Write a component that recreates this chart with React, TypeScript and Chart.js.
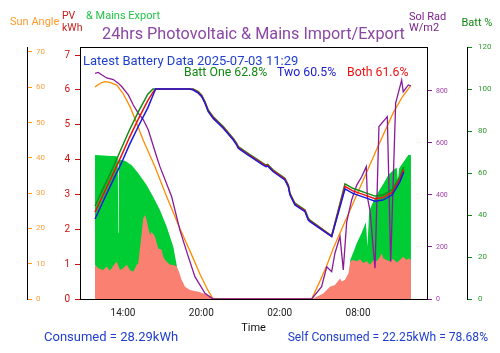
import React, { useEffect, useRef } from 'react';
import { Chart, registerables } from 'chart.js';

Chart.register(...registerables);
Chart.defaults.font.family = 'Roboto';

// ---------- data ----------
const xTicks = [14, 20, 26, 32];
const sunTicks = [0, 10, 20, 30, 40, 50, 60, 70];
const pvTicks = [0, 1, 2, 3, 4, 5, 6, 7];
const radTicks = [0, 200, 400, 600, 800];
const battTicks = [0, 20, 40, 60, 80, 100, 120];

const battTime = [11.86, 12.5, 13.2, 13.9, 14.5, 15.2, 15.9, 16.3, 16.5, 16.7, 19.1, 19.38, 19.77, 20.03, 20.28, 20.53, 20.91, 21.68, 22.45, 22.71, 22.83, 23.47, 24.74, 24.95, 25.08, 25.26, 25.51, 26.4, 26.66, 26.79, 27.17, 27.94, 28.19, 28.32, 29.98, 31.0, 31.6, 32.7, 33.3, 33.9, 34.6, 35.2, 35.5];
const battTwo = [38.1, 46.8, 56.0, 65.0, 73.5, 82.5, 91.0, 97.0, 100, 100, 100, 99.5, 98.0, 96.3, 93.2, 89.2, 86.0, 81.3, 75.7, 73.3, 71.8, 69.0, 63.8, 63.0, 63.3, 62.2, 60.6, 56.7, 53.5, 49.5, 44.8, 41.6, 37.6, 36.8, 29.7, 52.4, 50.3, 47.9, 46.6, 47.1, 49.5, 55.8, 60.5];
const battBoth = [41.4, 49.8, 59.0, 68.5, 77.0, 86.0, 94.5, 98.5, 100, 100, 100, 99.8, 98.4, 96.7, 93.6, 89.6, 86.4, 81.7, 76.1, 73.7, 72.2, 69.4, 64.2, 63.4, 63.7, 62.6, 61.0, 57.1, 53.9, 49.9, 45.2, 42.0, 38.0, 37.2, 29.9, 53.6, 51.5, 49.1, 47.8, 48.3, 50.7, 57.0, 61.6];
const battOne = [44.3, 52.8, 62.0, 72.0, 80.5, 89.5, 97.5, 100, 100, 100, 100, 100, 98.8, 97.1, 94.0, 90.0, 86.8, 82.1, 76.5, 74.1, 72.6, 69.8, 64.6, 63.8, 64.1, 63.0, 61.4, 57.5, 54.3, 50.3, 45.6, 42.4, 38.4, 37.6, 30.1, 54.8, 52.7, 50.3, 49.0, 49.5, 51.9, 58.2, 62.8];

const sunTime = [11.86, 12.3, 12.62, 13.0, 13.52, 14.0, 14.54, 15.0, 15.55, 16.45, 17.35, 18.36, 19.26, 19.9, 20.5, 20.91, 28.45, 29.1, 29.6, 30.1, 30.87, 32.15, 33.43, 34.7, 35.4, 36.05];
const sunAngle = [60.1, 61.2, 61.6, 61.4, 60.6, 58.3, 54.5, 50.3, 45.0, 37.5, 29.0, 20.0, 12.5, 7.0, 2.5, 0, 0, 5.2, 9.4, 14.3, 20.8, 31.6, 42.4, 52.8, 57.3, 60.5];

const radTime = [11.86, 12.11, 12.37, 12.75, 13.26, 13.64, 13.9, 14.41, 14.79, 15.17, 15.55, 15.94, 16.58, 16.83, 17.73, 18.36, 19.0, 19.51, 20.28, 20.89, 28.45, 29.21, 29.6, 29.98, 30.23, 30.62, 30.87, 31.13, 31.51, 31.9, 32.28, 32.63, 32.71, 32.91, 33.3, 33.6, 34.24, 34.5, 34.88, 35.34, 35.46, 35.85, 36.05];
const solRad = [868, 871, 862, 850, 844, 830, 817, 785, 746, 715, 690, 650, 547, 509, 393, 265, 163, 86, 22, 0, 0, 47, 124, 105, 176, 240, 112, 296, 381, 438, 470, 509, 393, 342, 118, 663, 701, 143, 753, 842, 797, 823, 819];

const pvTime = [11.86, 12.11, 12.49, 12.75, 13.0, 13.39, 13.52, 13.77, 14.02, 14.28, 14.54, 14.79, 15.05, 15.17, 15.43, 15.55, 15.68, 15.81, 15.94, 16.07, 16.2, 16.45, 16.7, 16.96, 17.09, 17.22, 17.6, 17.85, 18.11, 18.29, 18.49, 18.75, 19.13, 19.77, 20.28, 20.79, 21.04, 28.5, 29.34, 29.85, 30.23, 30.62, 30.75, 31.0, 31.27, 31.4, 31.65, 31.9, 32.15, 32.4, 32.66, 32.91, 33.17, 33.43, 33.68, 33.81, 33.93, 34.19, 34.44, 34.7, 34.96, 35.21, 35.46, 35.72, 35.85, 36.05];
const pvKwh = [0.98, 0.88, 0.83, 0.93, 0.81, 1.02, 1.07, 0.83, 0.88, 0.98, 0.83, 0.78, 0.98, 1.02, 1.88, 2.31, 2.41, 2.27, 2.03, 1.84, 1.93, 1.79, 1.45, 1.41, 1.21, 1.12, 0.98, 0.98, 0.93, 0.78, 0.55, 0.35, 0.26, 0.21, 0.14, 0.07, 0, 0, 0.16, 0.35, 0.40, 0.59, 0.50, 0.55, 0.74, 1.08, 1.12, 1.08, 1.15, 1.03, 1.08, 0.98, 1.12, 1.08, 1.21, 1.31, 1.17, 1.12, 1.08, 1.15, 1.05, 1.12, 1.21, 1.12, 1.17, 1.12];

const exportTime = [11.86, 12.5, 13.0, 13.39, 13.6, 13.64, 13.68, 13.77, 14.15, 14.67, 15.17, 15.81, 16.32, 16.83, 17.35, 17.85, 18.11, 18.5, 31.27, 31.4, 31.65, 31.9, 32.28, 32.6, 32.72, 32.85, 33.05, 33.43, 33.93, 34.31, 34.7, 34.96, 35.05, 35.15, 35.59, 35.85, 36.05];
const mainsExport = [4.13, 4.12, 4.10, 4.10, 4.08, 1.9, 4.06, 3.99, 3.97, 3.84, 3.61, 3.27, 2.93, 2.55, 2.07, 1.50, 0.98, 0, 0, 1.12, 1.35, 1.6, 1.9, 2.2, 1.5, 2.5, 2.7, 3.0, 3.3, 3.55, 3.7, 3.77, 3.4, 3.75, 3.99, 4.13, 4.13];

const titleText = '24hrs Photovoltaic & Mains Import/Export';
const latestText = 'Latest Battery Data 2025-07-03 11:29';
const battOneText = 'Batt One 62.8%';
const battTwoText = 'Two 60.5%';
const battBothText = 'Both 61.6%';
const consumedText = 'Consumed = 28.29kWh';
const selfText = 'Self Consumed = 22.25kWh = 78.68%';

// ---------- helpers ----------
const pts = (t: number[], v: number[]) => t.map((x, i) => ({ x, y: v[i] }));
const hh = (v: number) => `${String(((v % 24) + 24) % 24).padStart(2, '0')}:00`;
const fixTicks = (list: number[]) => (s: any) => { s.ticks = list.map((v) => ({ value: v })); };

const textPlugin = {
  id: 'texts',
  afterDraw(chart: any) {
    const { ctx, chartArea: a, scales } = chart;
    ctx.save();
    ctx.strokeStyle = '#000';
    ctx.lineWidth = 1;
    ctx.beginPath();
    ctx.moveTo(a.left, Math.round(a.top) + 0.5);
    ctx.lineTo(a.right, Math.round(a.top) + 0.5);
    ctx.stroke();
    const t = (s: string, x: number, y: number, color: string, size: number, align: CanvasTextAlign = 'left') => {
      ctx.font = `${size}px Roboto`;
      ctx.fillStyle = color;
      ctx.textAlign = align;
      ctx.textBaseline = 'alphabetic';
      ctx.fillText(s, x, y);
    };
    t(titleText, (a.left + a.right) / 2, 39, '#8a47a3', 16.2, 'center');
    t('Sun Angle', scales.sun.left + 10, 25, '#ff9a2e', 11);
    t('PV', scales.pv.left + 35, 18.5, '#c81e1e', 10.5);
    t('kWh', scales.pv.left + 35, 30.5, '#c81e1e', 10.5);
    t('& Mains Export', a.left + 6, 18.5, '#22c447', 11);
    t('Sol Rad', scales.rad.left - 18, 20, '#7d1f8c', 11);
    t('W/m2', scales.rad.left - 18, 30.5, '#7d1f8c', 11);
    t('Batt %', scales.batt.left - 5.5, 25.5, '#118811', 11);
    t(latestText, a.left + 3, 65, '#1f3fcc', 13);
    t(battOneText, 184, 76, '#118811', 12.3);
    t(battTwoText, 277, 76, '#1a1acc', 12.3);
    t(battBothText, 347, 76, '#ee1111', 12.3);
    t(consumedText, 44, 341, '#1f3fcc', 13);
    t(selfText, 488, 341, '#1f3fcc', 12.1, 'right');
    ctx.restore();
  },
};

const line = (label: string, data: any[], color: string, axis: string, order: number, width = 1.5) => ({
  label, data, yAxisID: axis, order,
  borderColor: color, backgroundColor: color, borderWidth: width,
  pointRadius: 0, tension: 0, fill: false,
});

const area = (label: string, data: any[], color: string, order: number) => ({
  label, data, yAxisID: 'pv', order,
  borderColor: color, backgroundColor: color, borderWidth: 0,
  pointRadius: 0, tension: 0, fill: 'origin',
});

const yAxis = (position: string, weight: number, max: number, width: number, list: number[], color: string, labelColor: string, size: number, padding: number, extra: any = {}) => ({
  type: 'linear', position, weight, min: 0, max,
  afterFit: (s: any) => { s.width = width; },
  afterBuildTicks: fixTicks(list),
  grid: { display: true, drawOnChartArea: false, drawTicks: true, tickLength: extra.tickLength ?? 5, color },
  border: { display: true, color: '#000' },
  ticks: { padding, color: labelColor, font: { size }, mirror: !!extra.mirror, autoSkip: false },
});

export default function App() {
  const ref = useRef<HTMLCanvasElement>(null);
  useEffect(() => {
    const chart = new Chart(ref.current as HTMLCanvasElement, {
      type: 'line',
      data: {
        datasets: [
          line('Batt Two', pts(battTime, battTwo), '#1a1add', 'batt', 1),
          line('Batt Both', pts(battTime, battBoth), '#ee1111', 'batt', 2),
          line('Batt One', pts(battTime, battOne), '#168a16', 'batt', 3),
          line('Sol Rad', pts(radTime, solRad), '#8a1a9a', 'rad', 4, 1.3),
          line('Sun Angle', pts(sunTime, sunAngle), '#ff8c00', 'sun', 5, 1.3),
          area('PV', pts(pvTime, pvKwh), '#fa8072', 6),
          area('Mains Export', pts(exportTime, mainsExport), '#00cc33', 7),
        ] as any,
      },
      options: {
        responsive: false,
        animation: false,
        layout: { padding: { top: 47, left: 0, right: 0, bottom: 0 } },
        plugins: { legend: { display: false }, title: { display: false }, tooltip: { enabled: false } },
        scales: {
          x: {
            type: 'linear', position: 'bottom', min: 10.71, max: 37.28,
            afterBuildTicks: fixTicks(xTicks),
            afterFit: (s: any) => { s.height = 54; },
            grid: { display: false, drawTicks: false },
            border: { display: true, color: '#000', width: 1 },
            ticks: { padding: 8, color: '#222', font: { size: 10 }, callback: (v: any) => hh(Number(v)), maxRotation: 0, autoSkip: false },
            title: { display: true, text: 'Time', color: '#111', font: { size: 11 }, padding: { top: 0, bottom: 18 } },
          },
          sun: yAxis('left', 1, 71.4, 27, sunTicks, '#ff9900', '#ffa040', 8, 9, { mirror: true, tickLength: -5 }),
          pv: yAxis('left', 0, 7.23, 53, pvTicks, '#cc1111', '#cc1111', 10, 5),
          rad: yAxis('right', 0, 969, 40, radTicks, '#8a1a9a', '#a040a8', 7, 4),
          batt: yAxis('right', 1, 120, 33, battTicks, '#118811', '#2f9a2f', 8, 6),
        } as any,
      },
      plugins: [textPlugin as any],
    });
    return () => chart.destroy();
  }, []);
  return (
    <div style={{ position: 'absolute', left: 0, top: 0, width: 500, height: 353, background: '#fff' }}>
      <canvas ref={ref} width={500} height={353} style={{ display: 'block', width: 500, height: 353 }} />
    </div>
  );
}
